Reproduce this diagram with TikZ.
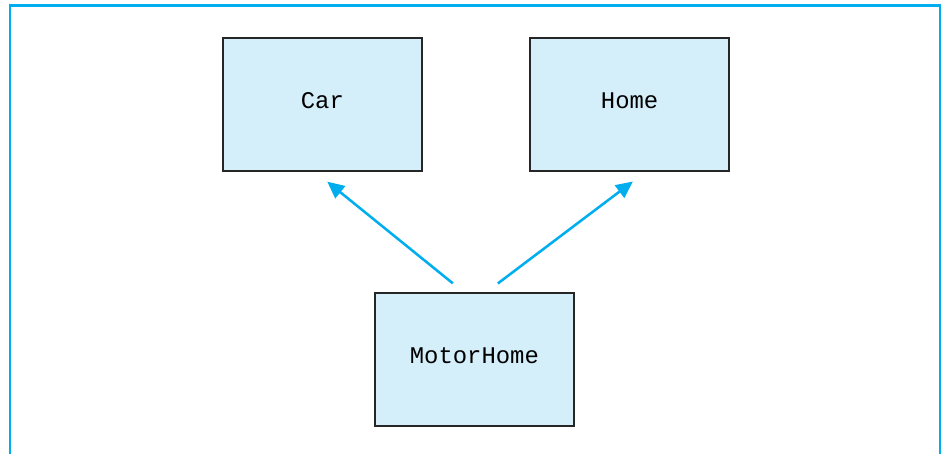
\documentclass[tikz,border=0pt]{standalone}
\usepackage{fontspec}
\setmonofont{Liberation Mono}
\usetikzlibrary{arrows.meta}

\definecolor{framecyan}{RGB}{0,174,239}
\definecolor{boxblue}{RGB}{212,238,250}

\tikzstyle{classbox} = [rectangle, draw=black!85, fill=boxblue, line width=1pt,
minimum width=4.975cm, minimum height=3.325cm, inner sep=0pt, text depth=0.2cm, font=\ttfamily\fontsize{17}{20}\selectfont]
\tikzstyle{frame} = [draw=framecyan, line width=2.1pt]
\tikzstyle{arrow} = [draw=framecyan, line width=1.8pt, -{Triangle[length=12pt,width=11pt]}]

\begin{document}
\begin{tikzpicture}[auto]
\useasboundingbox (0,0) rectangle (23.6,11.35);

	%Open frame around the picture
	\draw[frame] (0.25,0) -- (0.25,11.21) -- (23.5,11.21) -- (23.5,0);

	%Nodes for the two parent classes and the derived class
	\node[classbox](Car) at (8.06,8.74) {Car};
	\node[classbox, right of=Car, node distance=7.68cm](Home){Home};
	\node[classbox](MotorHome) at (11.86,2.36) {MotorHome};

	%Arrows from the derived class to each parent
	\path[arrow, shorten <=0.36cm, shorten >=0.40cm] ([xshift=-0.26cm]MotorHome.north) -- ([xshift=-0.19cm]Car.south);
	\path[arrow, shorten <=0.37cm, shorten >=0.41cm] ([xshift=0.29cm]MotorHome.north) -- ([xshift=0.41cm]Home.south);
\end{tikzpicture}
\end{document}
